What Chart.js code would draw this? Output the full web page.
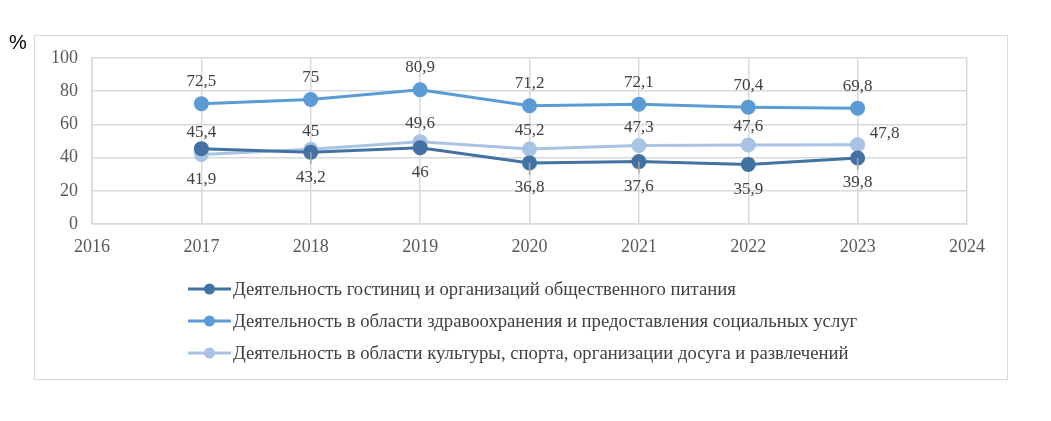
<!DOCTYPE html>
<html>
<head>
<meta charset="utf-8">
<script src="https://cdn.jsdelivr.net/npm/chart.js@4"></script>
<style>
  body { margin: 0; background: #fff; }
  #wrap { position: relative; width: 1051px; height: 421px; }
  #frame { position: absolute; left: 34px; top: 35px; width: 972px; height: 343px; border: 1.5px solid #d9d9d9; }
  #chart { position: absolute; left: 0; top: 0; }
  #pct { position: absolute; left: 9px; top: 31px; font: 20px "Liberation Sans", Arial, sans-serif; color: #000; }
  #legend { position: absolute; left: 188px; top: 273px; font: 18.7px "Liberation Serif", "Times New Roman", serif; color: #404040; }
  .item { height: 32px; display: flex; align-items: center; }
  .item canvas { margin-right: 2px; }
</style>
</head>
<body>
<div id="wrap">
  <div id="frame"></div>
  <canvas id="chart" width="1051" height="421"></canvas>
  <div id="pct">%</div>
  <div id="legend"></div>
</div>
<script>
const years = [2017, 2018, 2019, 2020, 2021, 2022, 2023];
const hotels = [45.4, 43.2, 46, 36.8, 37.6, 35.9, 39.8];
const health = [72.5, 75, 80.9, 71.2, 72.1, 70.4, 69.8];
const culture = [41.9, 45, 49.6, 45.2, 47.3, 47.6, 47.8];
const names = [
  "Деятельность гостиниц и организаций общественного питания",
  "Деятельность в области здравоохранения и предоставления социальных услуг",
  "Деятельность в области культуры, спорта, организации досуга и развлечений"
];
const colors = ["#4272a2", "#5b9bd5", "#a9c3e5"];
// where each value label goes relative to its point
const hotelsPos = ["above", "below", "below", "below", "below", "below", "below"];
const healthPos = ["above", "above", "above", "above", "above", "above", "above"];
const culturePos = ["below", "above", "above", "above", "above", "above", "right"];
const hotelsLeader = [false, true, false, true, true, false, true];

const ctx = document.querySelector("#chart").getContext("2d");

function series(i, values, pos, up, leader) {
  return {
    label: names[i],
    data: years.map((y, k) => ({ x: y, y: values[k] })),
    labelPos: pos,
    labelUp: up,
    leader: leader || [],
    borderColor: colors[i],
    backgroundColor: colors[i],
    borderWidth: 3,
    pointRadius: 6,
    pointHoverRadius: 6,
    fill: false,
    tension: 0,
  };
}

const valueLabels = {
  id: "valueLabels",
  afterDatasetsDraw(chart) {
    const c = chart.ctx;
    c.save();
    c.font = "17px 'Liberation Serif', 'Times New Roman', serif";
    c.textAlign = "center";
    c.textBaseline = "middle";
    chart.data.datasets.forEach((ds, i) => {
      chart.getDatasetMeta(i).data.forEach((pt, k) => {
        const txt = String(ds.data[k].y).replace(".", ",");
        const pos = ds.labelPos[k];
        let x = pt.x, y = pt.y;
        if (pos === "above") y -= ds.labelUp;
        else if (pos === "below") y += 25;
        else { x += 27; y -= 11; }
        if (ds.leader[k]) {
          c.strokeStyle = "#a6a6a6";
          c.lineWidth = 1.5;
          c.beginPath(); c.moveTo(pt.x, pt.y); c.lineTo(pt.x, pt.y + 12); c.stroke();
        }
        c.fillStyle = "#404040";
        c.fillText(txt, x, y);
      });
    });
    c.restore();
  },
};

const tickFont = { family: "'Liberation Serif', 'Times New Roman', serif", size: 18 };

const myChart = new Chart(ctx, {
  type: "line",
  data: {
    datasets: [
      series(0, hotels, hotelsPos, 16, hotelsLeader),
      series(1, health, healthPos, 22),
      series(2, culture, culturePos, 18),
    ],
  },
  options: {
    responsive: false,
    animation: false,
    layout: { padding: { left: 0, top: 58, right: 84, bottom: 157 } },
    plugins: { legend: { display: false }, tooltip: { enabled: false } },
    scales: {
      x: {
        type: "linear",
        min: 2016,
        max: 2024,
        ticks: { stepSize: 1, padding: 12, color: "#595959", font: tickFont, callback: (v) => String(v) },
        grid: { color: "#d9d9d9", lineWidth: 1.5, drawTicks: false },
        border: { color: "#d9d9d9", width: 1.5 },
        afterFit: (s) => { s.height = 40; },
      },
      y: {
        min: 0,
        max: 100,
        ticks: { stepSize: 20, padding: 14, color: "#595959", font: tickFont },
        grid: { color: "#d9d9d9", lineWidth: 1.5, drawTicks: false },
        border: { color: "#d9d9d9", width: 1.5 },
        afterFit: (s) => { s.width = 92; },
      },
    },
  },
  plugins: [valueLabels],
});

// legend rows: line with a dot, then the name
const legend = document.querySelector("#legend");
myChart.data.datasets.forEach((ds) => {
  const row = document.createElement("div");
  row.className = "item";
  const m = document.createElement("canvas");
  m.width = 43; m.height = 14;
  const mc = m.getContext("2d");
  mc.strokeStyle = ds.borderColor; mc.lineWidth = 3;
  mc.beginPath(); mc.moveTo(0, 7); mc.lineTo(43, 7); mc.stroke();
  mc.fillStyle = ds.backgroundColor;
  mc.beginPath(); mc.arc(21.5, 7, 5.5, 0, Math.PI * 2); mc.fill();
  const t = document.createElement("span");
  t.textContent = ds.label;
  row.appendChild(m); row.appendChild(t);
  legend.appendChild(row);
});
</script>
</body>
</html>
